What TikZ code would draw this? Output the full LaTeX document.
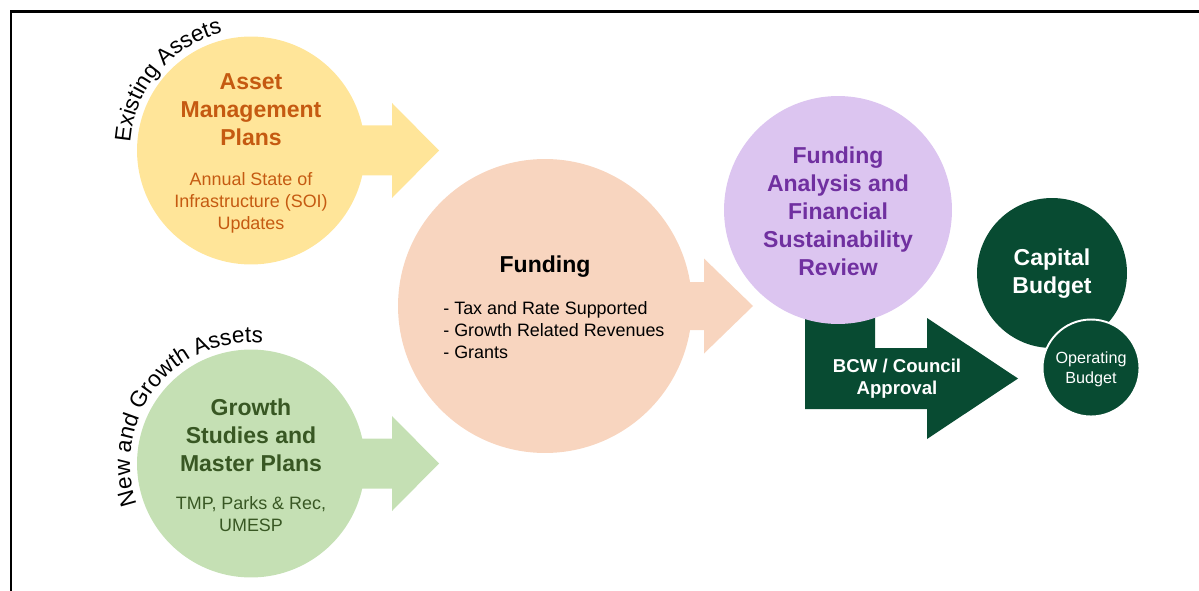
\documentclass[tikz,border=0pt]{standalone}
\usepackage{fontspec}
\setmainfont{Liberation Sans}
\usetikzlibrary{positioning, decorations.text, backgrounds}

\definecolor{amplight}{HTML}{FFE599}
\definecolor{ampdark}{HTML}{C55A11}
\definecolor{growlight}{HTML}{C5E0B4}
\definecolor{growdark}{HTML}{385723}
\definecolor{fundlight}{HTML}{F8D5BF}
\definecolor{reviewlight}{HTML}{DCC5F0}
\definecolor{reviewdark}{HTML}{7030A0}
\definecolor{councilgreen}{HTML}{084B32}

\begin{document}
\begin{tikzpicture}[x=0.02cm, y=-0.02cm,
    bubble/.style={circle, inner sep=0pt},
    titletext/.style={font=\bfseries\fontsize{13.1}{15.9}\selectfont, align=center, inner sep=0pt},
    subtext/.style={font=\fontsize{10.2}{12.5}\selectfont, align=center, inner sep=0pt}]
        \useasboundingbox (0,0) rectangle (1199,591);

        \node[bubble, fill=amplight, minimum size=4.56cm] (amp) at (251,150.5) {};
        \node[bubble, fill=growlight, minimum size=4.56cm] (growth) at (251,463.5) {};
        \node[bubble, fill=fundlight, minimum size=5.88cm] (funding) at (545,306) {};
        \node[bubble, fill=reviewlight, minimum size=4.56cm] (review) at (838,210) {};
        \node[bubble, fill=councilgreen, minimum size=3cm] (capital) at (1052,273) {};
        \node[bubble, fill=councilgreen, draw=white, line width=1.1pt, minimum size=1.94cm] (operating) at (1091,368) {};

        \coordinate (amptip) at (439,150.5);
        \coordinate (growtip) at (439,463.5);
        \coordinate (fundtip) at (753,306);
        \coordinate (bcwtip) at (1018,378.5);

        \begin{scope}[on background layer]
            \fill[amplight] (amp.center) ++(0,-25) -- ++(141,0) -- ++(0,-22.5) -- (amptip) -- ++(-47,47.5) -- ++(0,-22.5) -- ++(-141,0) -- cycle;
            \fill[growlight] (growth.center) ++(0,-25) -- ++(141,0) -- ++(0,-22.5) -- (growtip) -- ++(-47,47.5) -- ++(0,-22.5) -- ++(-141,0) -- cycle;
            \fill[fundlight] (funding.center) ++(0,-24) -- ++(159,0) -- ++(0,-23.5) -- (fundtip) -- ++(-49,47.5) -- ++(0,-23.5) -- ++(-159,0) -- cycle;
            \fill[councilgreen] (review.center) ++(-33,40) -- ++(0,159) -- ++(122,0) -- ++(0,30) -- (bcwtip) -- ++(-91,-60.5) -- ++(0,30) -- ++(-52,0) -- ++(0,-98) -- cycle;
        \end{scope}

        \node[titletext, text=ampdark] (amptitle) at (251,110) {Asset\\Management\\Plans};
        \node[subtext, text=ampdark] (ampsub) at (251,203) {Annual State of\\Infrastructure (SOI)\\Updates};
        \node[titletext, text=growdark] (growtitle) at (251,435) {Growth\\Studies and\\Master Plans};
        \node[subtext, text=growdark] (growsub) at (251,514) {TMP, Parks \& Rec,\\UMESP};
        \node[titletext] (fundtitle) at (545,267) {Funding};
        \node[subtext, align=left, anchor=west] (fundlist) at (443,330) {- Tax and Rate Supported\\- Growth Related Revenues\\- Grants};
        \node[titletext, text=reviewdark] (reviewtext) at (838,211) {Funding\\Analysis and\\Financial\\Sustainability\\Review};
        \node[titletext, text=white] (capitaltext) at (1052,274) {Capital\\Budget};
        \node[subtext, text=white, font=\fontsize{9.2}{11.4}\selectfont] (operatingtext) at (1091,369) {Operating\\Budget};
        \node[titletext, text=white, font=\bfseries\fontsize{10.6}{12.5}\selectfont] (bcwtext) at (897,379) {BCW / Council\\Approval};

        \path[decorate, decoration={text along path, text align=center, text={|\fontsize{12.9}{15}\selectfont|Existing Assets}}] (amp.center) ++(165:121) arc (165:275:121);
        \path[decorate, decoration={text along path, text align=center, text={|\fontsize{12.9}{15}\selectfont|New and Growth Assets}}] (growth.center) ++(150:121) arc (150:286:121);

        \draw[line width=1.7pt] (11,591) -- (11,11.5) -- (1199,11.5);
    \end{tikzpicture}
\end{document}
